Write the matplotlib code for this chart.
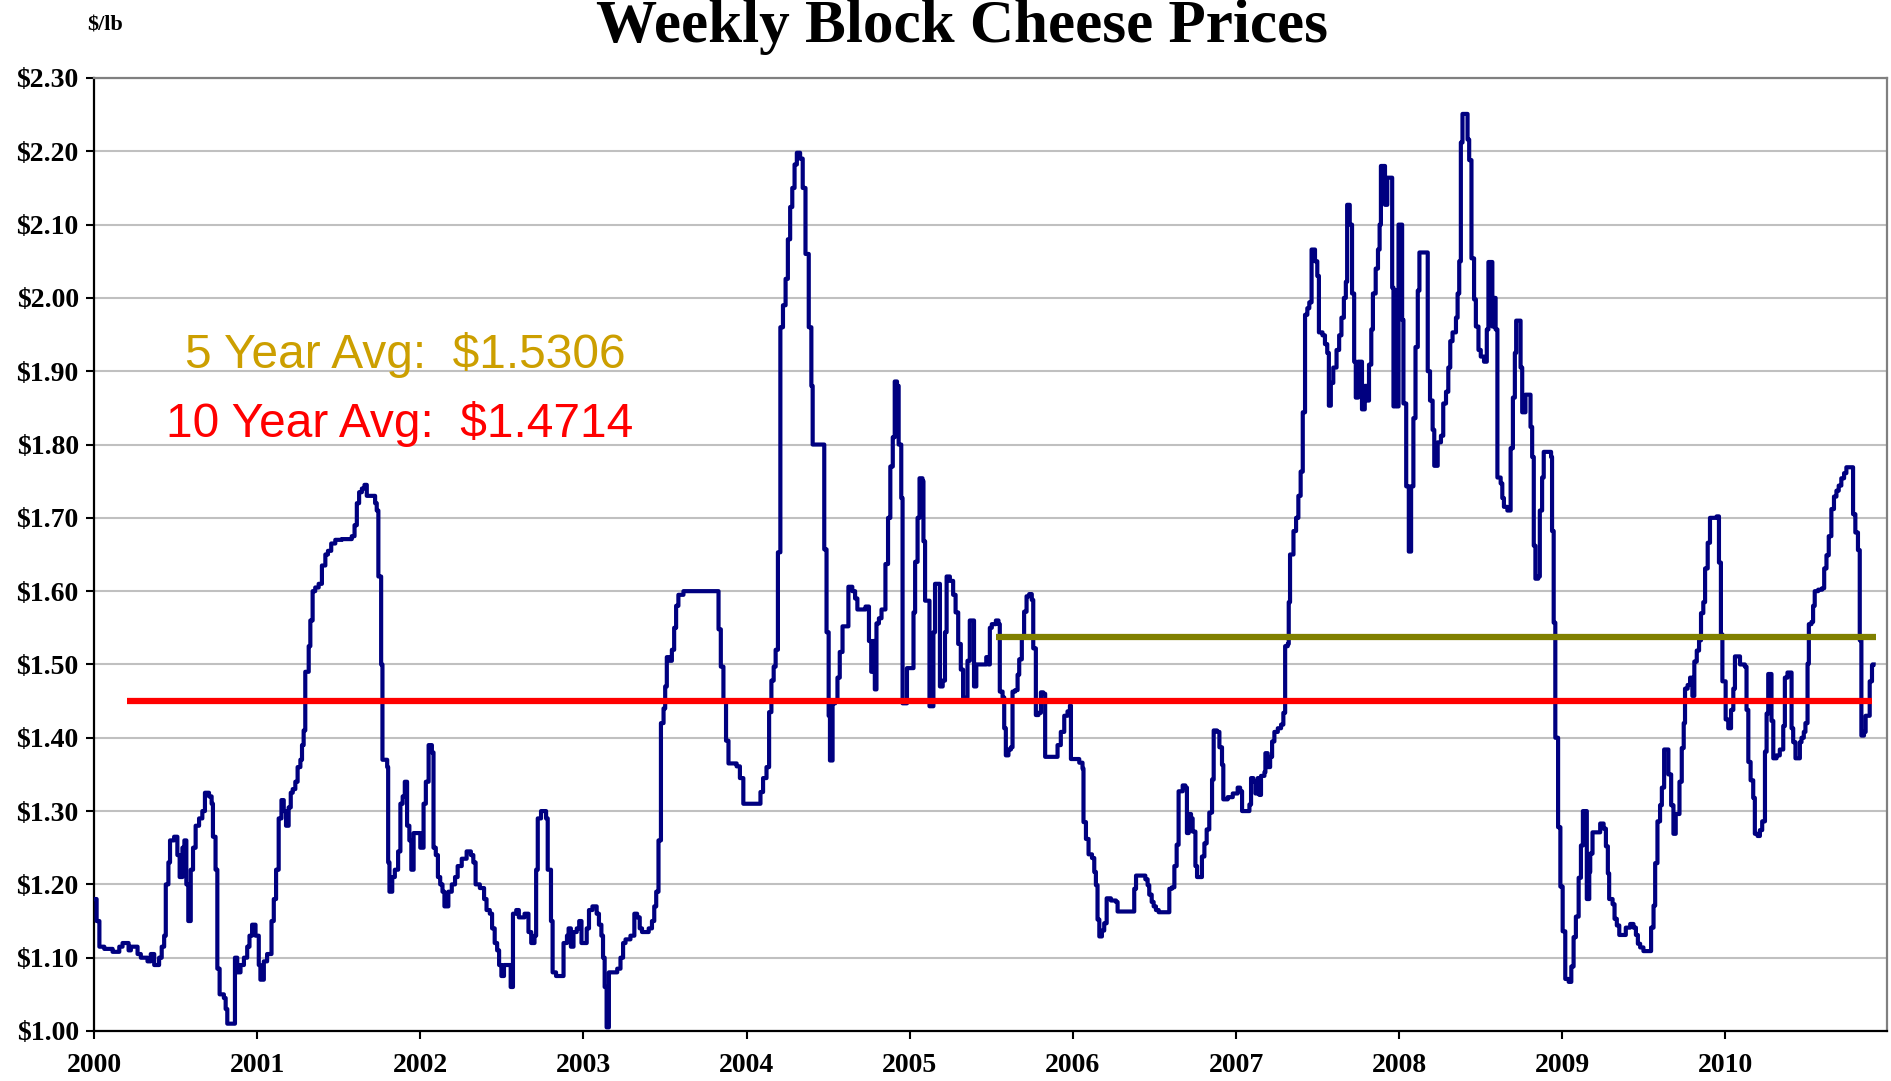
import numpy as np
import matplotlib.pyplot as plt

# weekly block cheese price as (decimal year, $/lb) step points
p2000 = [(2000.000,1.18),(2000.016,1.15),(2000.033,1.115),(2000.063,1.112),(2000.114,1.108),(2000.155,1.115),
         (2000.175,1.12),(2000.212,1.11),(2000.226,1.115),(2000.267,1.105),(2000.287,1.10),(2000.328,1.095),
         (2000.348,1.105),(2000.369,1.09),(2000.399,1.10),(2000.415,1.115),(2000.430,1.13),(2000.440,1.20),
         (2000.456,1.23),(2000.466,1.26),(2000.491,1.265),(2000.511,1.24),(2000.525,1.21),(2000.542,1.25),
         (2000.554,1.26),(2000.566,1.20),(2000.578,1.15),(2000.593,1.22),(2000.607,1.25),(2000.623,1.28),
         (2000.644,1.29),(2000.664,1.30),(2000.680,1.325),(2000.705,1.32),(2000.721,1.31),(2000.729,1.265),
         (2000.745,1.22),(2000.756,1.085),(2000.770,1.05),(2000.796,1.045),(2000.807,1.03),(2000.817,1.01),
         (2000.864,1.10),(2000.878,1.08),(2000.898,1.09),(2000.919,1.10),(2000.939,1.115),(2000.953,1.13),
         (2000.969,1.145),(2000.990,1.13)]
p2001 = [(2001.010,1.09),(2001.020,1.07),(2001.041,1.095),(2001.061,1.105),(2001.088,1.15),(2001.102,1.18),
         (2001.116,1.22),(2001.132,1.29),(2001.149,1.315),(2001.163,1.30),(2001.177,1.28),(2001.193,1.305),
         (2001.206,1.325),(2001.218,1.33),(2001.234,1.34),(2001.248,1.36),(2001.265,1.37),(2001.275,1.39),
         (2001.285,1.41),(2001.295,1.49),(2001.316,1.525),(2001.326,1.56),(2001.340,1.60),(2001.356,1.605),
         (2001.377,1.61),(2001.397,1.635),(2001.418,1.65),(2001.434,1.655),(2001.454,1.665),(2001.479,1.67),
         (2001.519,1.671),(2001.580,1.675),(2001.597,1.69),(2001.611,1.72),(2001.625,1.735),(2001.642,1.74),
         (2001.658,1.745),(2001.672,1.73),(2001.723,1.72),(2001.733,1.71),(2001.743,1.62),(2001.760,1.50),
         (2001.768,1.37),(2001.797,1.36),(2001.803,1.23),(2001.811,1.19),(2001.828,1.21),(2001.844,1.22),
         (2001.864,1.245),(2001.878,1.31),(2001.892,1.32),(2001.905,1.34),(2001.919,1.28),(2001.933,1.26),
         (2001.945,1.22),(2001.959,1.27),(2001.980,1.27)]
p2002 = [(2002.000,1.25),(2002.020,1.31),(2002.034,1.34),(2002.051,1.39),(2002.071,1.38),(2002.081,1.25),
         (2002.095,1.24),(2002.108,1.21),(2002.122,1.20),(2002.136,1.19),(2002.148,1.17),(2002.172,1.19),
         (2002.193,1.20),(2002.213,1.21),(2002.229,1.225),(2002.254,1.235),(2002.284,1.245),(2002.310,1.24),
         (2002.325,1.23),(2002.339,1.20),(2002.365,1.195),(2002.391,1.18),(2002.406,1.165),(2002.426,1.16),
         (2002.440,1.14),(2002.456,1.12),(2002.471,1.11),(2002.483,1.09),(2002.497,1.075),(2002.513,1.09),
         (2002.542,1.09),(2002.554,1.06),(2002.568,1.16),(2002.588,1.165),(2002.604,1.155),(2002.639,1.16),
         (2002.663,1.135),(2002.680,1.12),(2002.700,1.13),(2002.710,1.22),(2002.720,1.29),(2002.740,1.30),
         (2002.771,1.29),(2002.781,1.22),(2002.801,1.15),(2002.811,1.08),(2002.832,1.075),(2002.858,1.075),
         (2002.878,1.12),(2002.899,1.13),(2002.909,1.14),(2002.923,1.115),(2002.939,1.135),(2002.959,1.14),
         (2002.974,1.15),(2002.988,1.12)]
p2003 = [(2003.004,1.12),(2003.020,1.14),(2003.034,1.165),(2003.055,1.17),(2003.081,1.16),(2003.095,1.145),
         (2003.110,1.13),(2003.120,1.10),(2003.130,1.06),(2003.142,1.005),(2003.156,1.08),(2003.187,1.08),
         (2003.207,1.085),(2003.227,1.10),(2003.243,1.12),(2003.258,1.125),(2003.288,1.13),(2003.312,1.16),
         (2003.329,1.155),(2003.345,1.14),(2003.359,1.135),(2003.400,1.14),(2003.420,1.15),(2003.434,1.17),
         (2003.446,1.19),(2003.460,1.26),(2003.475,1.42),(2003.491,1.44),(2003.501,1.47),(2003.511,1.51),
         (2003.527,1.505),(2003.542,1.52),(2003.556,1.55),(2003.568,1.58),(2003.582,1.595),(2003.613,1.60),
         (2003.828,1.548),(2003.842,1.497),(2003.858,1.45),(2003.874,1.396),(2003.889,1.365),(2003.939,1.361),
         (2003.959,1.345),(2003.980,1.31)]
p2004 = [(2004.085,1.326),(2004.101,1.345),(2004.122,1.36),(2004.138,1.435),(2004.152,1.478),(2004.166,1.497),
         (2004.178,1.52),(2004.192,1.653),(2004.207,1.96),(2004.223,1.99),(2004.239,2.026),(2004.253,2.08),
         (2004.267,2.124),(2004.280,2.15),(2004.294,2.182),(2004.308,2.198),(2004.328,2.19),(2004.344,2.15),
         (2004.361,2.06),(2004.381,1.96),(2004.397,1.88),(2004.405,1.80),(2004.476,1.657),(2004.490,1.544),
         (2004.503,1.43),(2004.511,1.369),(2004.527,1.447),(2004.543,1.45),(2004.557,1.482),(2004.571,1.517),
         (2004.588,1.552),(2004.624,1.606),(2004.648,1.60),(2004.665,1.59),(2004.679,1.575),(2004.729,1.579),
         (2004.750,1.532),(2004.764,1.49),(2004.774,1.532),(2004.786,1.466),(2004.796,1.556),(2004.811,1.563),
         (2004.827,1.575),(2004.851,1.637),(2004.867,1.70),(2004.881,1.77),(2004.896,1.81),(2004.908,1.886),
         (2004.922,1.88),(2004.932,1.80),(2004.948,1.727),(2004.956,1.447),(2004.983,1.495)]
p2005 = [(2005.023,1.571),(2005.033,1.64),(2005.048,1.70),(2005.060,1.754),(2005.078,1.75),(2005.084,1.668),
         (2005.094,1.587),(2005.121,1.443),(2005.145,1.544),(2005.155,1.61),(2005.185,1.47),(2005.202,1.478),
         (2005.216,1.544),(2005.226,1.62),(2005.246,1.614),(2005.266,1.595),(2005.281,1.571),(2005.297,1.528),
         (2005.313,1.493),(2005.327,1.455),(2005.354,1.505),(2005.368,1.56),(2005.394,1.47),(2005.408,1.50),
         (2005.469,1.51),(2005.483,1.50),(2005.491,1.55),(2005.503,1.555),(2005.528,1.56),(2005.544,1.555),
         (2005.552,1.463),(2005.569,1.455),(2005.579,1.413),(2005.589,1.376),(2005.605,1.384),(2005.620,1.387),
         (2005.630,1.463),(2005.646,1.465),(2005.661,1.486),(2005.671,1.507),(2005.687,1.538),(2005.701,1.572),
         (2005.716,1.593),(2005.732,1.596),(2005.748,1.588),(2005.757,1.522),(2005.773,1.431),(2005.789,1.434),
         (2005.804,1.462),(2005.818,1.46),(2005.830,1.374),(2005.906,1.39),(2005.926,1.408),(2005.947,1.43),
         (2005.967,1.436),(2005.982,1.444),(2005.988,1.371)]
p2006 = [(2006.039,1.366),(2006.059,1.358),(2006.065,1.285),(2006.080,1.262),(2006.096,1.241),(2006.117,1.236),
         (2006.131,1.217),(2006.141,1.199),(2006.151,1.152),(2006.162,1.129),(2006.178,1.137),(2006.192,1.147),
         (2006.207,1.181),(2006.233,1.178),(2006.264,1.176),(2006.274,1.163),(2006.376,1.194),(2006.387,1.212),
         (2006.444,1.207),(2006.458,1.199),(2006.468,1.186),(2006.483,1.176),(2006.495,1.17),(2006.509,1.165),
         (2006.526,1.162),(2006.591,1.194),(2006.607,1.196),(2006.622,1.225),(2006.636,1.254),(2006.648,1.327),
         (2006.673,1.335),(2006.689,1.332),(2006.699,1.27),(2006.710,1.296),(2006.724,1.29),(2006.734,1.272),
         (2006.751,1.225),(2006.761,1.21),(2006.791,1.238),(2006.806,1.256),(2006.820,1.275),(2006.836,1.298),
         (2006.853,1.343),(2006.863,1.41),(2006.883,1.408),(2006.898,1.387),(2006.914,1.363),(2006.922,1.316),
         (2006.949,1.319),(2006.980,1.324)]
p2007 = [(2007.010,1.332),(2007.025,1.327),(2007.037,1.30),(2007.082,1.309),(2007.092,1.345),(2007.106,1.34),
         (2007.119,1.324),(2007.133,1.345),(2007.143,1.322),(2007.153,1.348),(2007.174,1.353),(2007.180,1.379),
         (2007.194,1.36),(2007.209,1.374),(2007.221,1.395),(2007.235,1.408),(2007.256,1.413),(2007.276,1.418),
         (2007.290,1.434),(2007.301,1.525),(2007.317,1.528),(2007.323,1.585),(2007.331,1.65),(2007.352,1.682),
         (2007.368,1.70),(2007.382,1.73),(2007.396,1.763),(2007.409,1.844),(2007.423,1.977),(2007.437,1.986),
         (2007.449,1.994),(2007.463,2.066),(2007.484,2.05),(2007.498,2.03),(2007.508,1.953),(2007.530,1.949),
         (2007.545,1.937),(2007.559,1.925),(2007.569,1.853),(2007.581,1.884),(2007.596,1.905),(2007.616,1.929),
         (2007.632,1.949),(2007.646,1.973),(2007.661,2.0),(2007.673,2.022),(2007.681,2.127),(2007.697,2.10),
         (2007.711,2.006),(2007.724,1.913),(2007.734,1.864),(2007.748,1.913),(2007.772,1.848),(2007.789,1.88),
         (2007.803,1.86),(2007.815,1.909),(2007.829,1.957),(2007.839,2.006),(2007.856,2.04),(2007.870,2.066),
         (2007.880,2.10),(2007.888,2.18),(2007.913,2.127),(2007.927,2.164),(2007.957,2.014),(2007.965,1.852),
         (2007.978,2.01),(2007.988,1.852),(2007.996,2.10)]
p2008 = [(2008.018,1.97),(2008.026,1.856),(2008.043,1.743),(2008.059,1.654),(2008.073,1.743),(2008.087,1.836),
         (2008.100,1.933),(2008.114,2.01),(2008.124,2.062),(2008.175,1.90),(2008.189,1.86),(2008.205,1.82),
         (2008.215,1.771),(2008.236,1.803),(2008.256,1.812),(2008.270,1.856),(2008.287,1.872),(2008.301,1.905),
         (2008.313,1.941),(2008.327,1.953),(2008.348,1.973),(2008.358,2.006),(2008.368,2.05),(2008.378,2.212),
         (2008.388,2.251),(2008.419,2.216),(2008.429,2.188),(2008.443,2.054),(2008.459,1.998),(2008.470,1.961),
         (2008.486,1.929),(2008.500,1.92),(2008.520,1.913),(2008.537,1.957),(2008.547,2.049),(2008.571,1.961),
         (2008.581,2.0),(2008.591,1.957),(2008.602,1.755),(2008.622,1.747),(2008.632,1.727),(2008.642,1.715),
         (2008.663,1.71),(2008.683,1.795),(2008.697,1.864),(2008.709,1.925),(2008.717,1.969),(2008.744,1.905),
         (2008.754,1.844),(2008.774,1.868),(2008.805,1.824),(2008.815,1.783),(2008.825,1.662),(2008.835,1.617),
         (2008.852,1.62),(2008.862,1.71),(2008.876,1.755),(2008.886,1.79),(2008.931,1.783),(2008.937,1.682),
         (2008.947,1.557),(2008.957,1.40),(2008.974,1.278),(2008.988,1.197)]
p2009 = [(2009.002,1.136),(2009.018,1.071),(2009.039,1.067),(2009.055,1.088),(2009.069,1.128),(2009.083,1.156),
         (2009.100,1.209),(2009.114,1.253),(2009.126,1.30),(2009.150,1.18),(2009.165,1.217),(2009.171,1.242),
         (2009.185,1.271),(2009.232,1.283),(2009.253,1.276),(2009.267,1.252),(2009.279,1.215),(2009.287,1.18),
         (2009.308,1.173),(2009.320,1.153),(2009.334,1.144),(2009.349,1.131),(2009.389,1.141),(2009.416,1.146),
         (2009.436,1.141),(2009.451,1.131),(2009.463,1.119),(2009.477,1.114),(2009.497,1.109),(2009.544,1.141),
         (2009.559,1.171),(2009.569,1.229),(2009.583,1.286),(2009.599,1.308),(2009.610,1.332),(2009.624,1.384),
         (2009.650,1.35),(2009.667,1.308),(2009.681,1.269),(2009.695,1.296),(2009.718,1.34),(2009.732,1.386),
         (2009.744,1.42),(2009.752,1.467),(2009.768,1.472),(2009.783,1.482),(2009.797,1.457),(2009.809,1.504),
         (2009.824,1.519),(2009.838,1.533),(2009.850,1.57),(2009.864,1.585),(2009.875,1.631),(2009.891,1.666),
         (2009.905,1.70),(2009.946,1.702),(2009.960,1.639),(2009.972,1.541),(2009.981,1.477)]
p2010 = [(2010.001,1.425),(2010.017,1.413),(2010.034,1.438),(2010.048,1.467),(2010.058,1.511),(2010.089,1.50),
         (2010.119,1.497),(2010.129,1.438),(2010.140,1.367),(2010.154,1.342),(2010.170,1.318),(2010.180,1.269),
         (2010.197,1.266),(2010.211,1.274),(2010.225,1.286),(2010.242,1.381),(2010.252,1.433),(2010.262,1.487),
         (2010.282,1.423),(2010.293,1.372),(2010.313,1.376),(2010.333,1.384),(2010.354,1.416),(2010.364,1.482),
         (2010.380,1.489),(2010.405,1.413),(2010.415,1.394),(2010.429,1.372),(2010.456,1.394),(2010.466,1.40),
         (2010.480,1.408),(2010.490,1.42),(2010.503,1.501),(2010.511,1.555),(2010.527,1.558),(2010.537,1.58),
         (2010.547,1.60),(2010.568,1.602),(2010.592,1.604),(2010.605,1.631),(2010.619,1.649),(2010.633,1.675),
         (2010.649,1.712),(2010.665,1.729),(2010.680,1.737),(2010.694,1.744),(2010.710,1.754),(2010.727,1.761),
         (2010.741,1.769),(2010.782,1.705),(2010.796,1.68),(2010.812,1.656),(2010.823,1.533),(2010.833,1.403),
         (2010.849,1.408),(2010.859,1.43),(2010.884,1.477),(2010.898,1.499),(2010.908,1.50)]

# averages as drawn (level, start, end)
avg10_level, avg10_span = 1.45, (2000.20, 2010.90)
avg5_level, avg5_span = 1.538, (2005.53, 2010.92)
avg5_text = "5 Year Avg:  $1.5306"
avg10_text = "10 Year Avg:  $1.4714"

years = list(range(2000, 2011))
yticks = [1.0 + 0.1*i for i in range(14)]

pts = np.array(p2000 + p2001 + p2002 + p2003 + p2004 + p2005 + p2006 + p2007 + p2008 + p2009 + p2010)
t, price = pts[:, 0], pts[:, 1]

serif = 'Liberation Serif'
fig = plt.figure(figsize=(18.91, 10.81), dpi=100)
ax = fig.add_axes([94/1891, 50/1081, 1793/1891, 953/1081])

ax.plot(t, price, drawstyle='steps-post', color='#000080', lw=3.0, zorder=3)
ax.hlines(avg10_level, *avg10_span, color='#FF0000', lw=4.5, zorder=4)
ax.hlines(avg5_level, *avg5_span, color='#808000', lw=4.5, zorder=4)

ax.set_xlim(2000, 2010.99)
ax.set_ylim(1.0, 2.3)
ax.set_xticks(years)
ax.set_xticklabels([str(y) for y in years], fontfamily=serif, fontweight='bold', fontsize=20)
ax.set_yticks(yticks)
ax.set_yticklabels(['$%.2f' % v for v in yticks], fontfamily=serif, fontweight='bold', fontsize=20)
ax.tick_params(axis='x', direction='out', length=6, width=1.5, pad=10)
ax.tick_params(axis='y', direction='out', length=6, width=1.5, pad=5)
ax.yaxis.grid(True, color='#C0C0C0', lw=1.5, zorder=0)
ax.set_axisbelow(True)
for s in ['left', 'bottom']:
    ax.spines[s].set_linewidth(1.6)
    ax.spines[s].set_color('black')
for s in ['top', 'right']:
    ax.spines[s].set_linewidth(1.6)
    ax.spines[s].set_color('#808080')

fig.text(962/1891, 1 - 42/1081, 'Weekly Block Cheese Prices', ha='center', va='baseline',
         fontfamily=serif, fontweight='bold', fontsize=44)
fig.text(87/1891, 1 - 30/1081, '$/lb', ha='left', va='baseline',
         fontfamily=serif, fontweight='bold', fontsize=16)
fig.text(185/1891, 1 - 368/1081, avg5_text, ha='left', va='baseline',
         fontfamily='Liberation Sans', fontsize=34.5, color='#CC9F00')
fig.text(166/1891, 1 - 437/1081, avg10_text, ha='left', va='baseline',
         fontfamily='Liberation Sans', fontsize=34.5, color='#FF0000')

fig.savefig('out.png', dpi=100)
